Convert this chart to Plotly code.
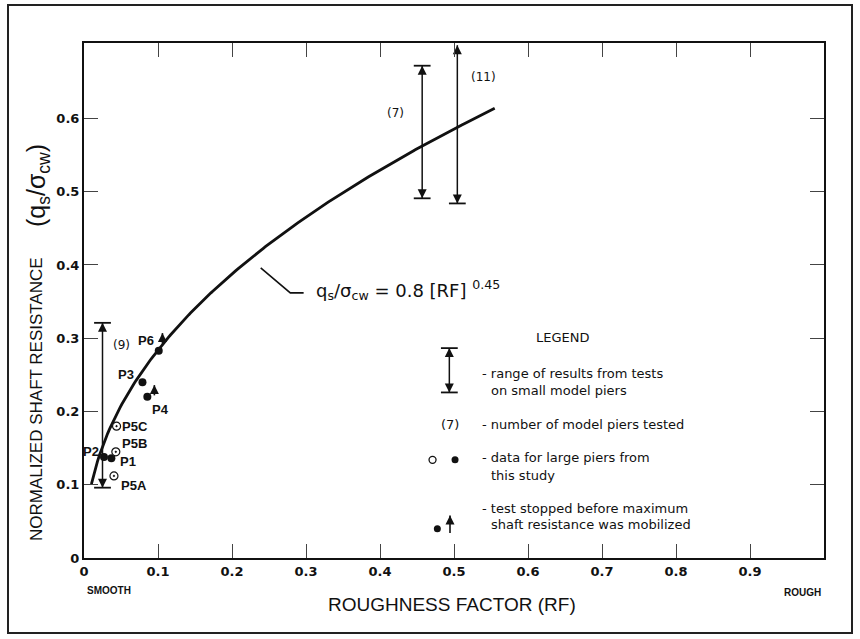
import numpy as np
import plotly.graph_objects as go

# ---- data -------------------------------------------------------------
# Large-pier test results (this study)
solid_labels = ["P1", "P2", "P3", "P4", "P6"]
solid_rf = [0.037, 0.027, 0.079, 0.0856, 0.101]
solid_q = [0.136, 0.138, 0.240, 0.220, 0.283]

open_labels = ["P5A", "P5B", "P5C"]
open_rf = [0.0405, 0.043, 0.044]
open_q = [0.112, 0.145, 0.180]

# tests stopped before maximum shaft resistance was mobilized
stopped_labels = ["P6", "P4"]

# Ranges from small model pier tests
range_rf = [0.025, 0.457, 0.5045]
range_low = [0.096, 0.491, 0.484]
range_high = [0.321, 0.672, 0.700]
range_capped_top = [True, True, False]
range_count = ["(9)", "(7)", "(11)"]
count_pos_rf = [0.051, 0.421, 0.5405]
count_pos_q = [0.291, 0.608, 0.657]

# Fitted relation  qs/sigma_cw = 0.8 * RF^0.45
coef = 0.8
expo = 0.45
rf_start, rf_end = 0.01, 0.555

x_ticks = [0, 0.1, 0.2, 0.3, 0.4, 0.5, 0.6, 0.7, 0.8, 0.9]
x_tick_text = ["0", "0.1", "0.2", "0.3", "0.4", "0.5", "0.6", "0.7", "0.8", "0.9"]
y_ticks = [0, 0.1, 0.2, 0.3, 0.4, 0.5, 0.6]
y_tick_text = ["0", "0.1", "0.2", "0.3", "0.4", "0.5", "0.6"]

# ---- layout geometry --------------------------------------------------
W, H = 860, 639
ML, MR, MT, MB = 84, 36, 43, 81
PW, PH = W - ML - MR, H - MT - MB
X_RANGE = [0, 1.0]
Y_RANGE = [0, 0.703]


def paper_x(px):
    return (px - ML) / PW


def paper_y(py):
    return (H - MB - py) / PH


INK = "#111111"
FONT = "Liberation Sans, Arial, Helvetica, sans-serif"
WIDE = "DejaVu Sans, Verdana, sans-serif"
HEAD = 9  # arrowhead marker size

fig = go.Figure()
annotations = []


def add_arrows(xs, lows, highs, up=True, down=True, width=1.5):
    """Vertical shafts with arrowheads (tips sit on the end values)."""
    lx, ly = [], []
    for xv, lo, hi in zip(xs, lows, highs):
        lx += [xv, xv, None]
        ly += [lo, hi, None]
    fig.add_trace(go.Scatter(x=lx, y=ly, mode="lines",
                             line=dict(color=INK, width=width),
                             hoverinfo="skip"))
    if up:
        fig.add_trace(go.Scatter(x=list(xs), y=list(highs), mode="markers",
                                 marker=dict(symbol="arrow-up", size=HEAD,
                                             color=INK, line=dict(width=0)),
                                 hoverinfo="skip"))
    if down:
        fig.add_trace(go.Scatter(x=list(xs), y=list(lows), mode="markers",
                                 marker=dict(symbol="arrow-down", size=HEAD,
                                             color=INK, line=dict(width=0)),
                                 hoverinfo="skip"))


def add_caps(xs, ys):
    fig.add_trace(go.Scatter(x=xs, y=ys, mode="markers",
                             marker=dict(symbol="line-ew", size=12,
                                         line=dict(color=INK, width=1.8)),
                             hoverinfo="skip"))


# fitted curve
rf = np.linspace(rf_start, rf_end, 200)
fig.add_trace(go.Scatter(x=rf, y=coef * rf ** expo, mode="lines",
                         line=dict(color=INK, width=2.8), hoverinfo="skip"))

# range bars from model pier tests
cap_x, cap_y = [], []
for xv, lo, hi, top in zip(range_rf, range_low, range_high, range_capped_top):
    cap_x.append(xv)
    cap_y.append(lo)
    if top:
        cap_x.append(xv)
        cap_y.append(hi)
add_caps(cap_x, cap_y)
add_arrows(range_rf, range_low, range_high)
for t, xv, yv in zip(range_count, count_pos_rf, count_pos_q):
    annotations.append(dict(x=xv, y=yv, text=t, showarrow=False,
                            xanchor="center", yanchor="middle",
                            font=dict(family=WIDE, size=12, color=INK)))

# large pier points
fig.add_trace(go.Scatter(x=solid_rf, y=solid_q, mode="markers",
                         marker=dict(symbol="circle", size=8, color=INK),
                         hoverinfo="skip"))
fig.add_trace(go.Scatter(x=open_rf, y=open_q, mode="markers",
                         marker=dict(symbol="circle-dot", size=8, color="white",
                                     line=dict(color=INK, width=1.2)),
                         hoverinfo="skip"))

# point label placement (anchor, x shift px, y shift px)
label_style = {
    "P1": ("left", 7, -3), "P2": ("right", -3, 5), "P3": ("right", -6, 8),
    "P4": ("left", 3, -13), "P6": ("right", -3, 10),
    "P5A": ("left", 5, -10), "P5B": ("left", 4, 8), "P5C": ("left", 3, 0),
}
all_pts = dict(zip(solid_labels, zip(solid_rf, solid_q)))
all_pts.update(dict(zip(open_labels, zip(open_rf, open_q))))
for name, (xv, yv) in all_pts.items():
    anc, sx, sy = label_style[name]
    annotations.append(dict(x=xv, y=yv, text=name, showarrow=False,
                            xanchor=anc, yanchor="middle", xshift=sx, yshift=sy,
                            font=dict(family=FONT, size=13, color=INK,
                                      weight="bold")))

# "still rising" arrows beside stopped tests (x offset, bottom, top offsets)
stop_offsets = {"P6": (0.005, 0.0095, 0.024), "P4": (0.0095, 0.002, 0.016)}
sx_, lo_, hi_ = [], [], []
for name in stopped_labels:
    xv, yv = all_pts[name]
    dx, d0, d1 = stop_offsets[name]
    sx_.append(xv + dx)
    lo_.append(yv + d0)
    hi_.append(yv + d1)
add_arrows(sx_, lo_, hi_, up=True, down=False, width=1.6)

# equation label with leader line
lead_rf = 0.2388
lead_q = coef * lead_rf ** expo - 0.024
fig.add_shape(type="path", xref="x", yref="y",
              path=f"M {lead_rf} {lead_q} L {lead_rf + 0.040} {lead_q - 0.034} "
                   f"L {lead_rf + 0.058} {lead_q - 0.034}",
              line=dict(color=INK, width=1.6))
annotations.append(dict(x=lead_rf + 0.072, y=lead_q - 0.030, xanchor="left",
                        yanchor="middle",
                        text="q<sub>s</sub>/σ<sub>cw</sub> = 0.8 [RF] <sup>0.45</sup>",
                        showarrow=False,
                        font=dict(family=WIDE, size=18, color=INK)))

# ---- legend block ----------------------------------------------------
leg_x = 0.4937
add_caps([leg_x, leg_x], [0.226, 0.2865])
add_arrows([leg_x], [0.226], [0.2865])
fig.add_trace(go.Scatter(x=[0.471], y=[0.134], mode="markers",
                         marker=dict(symbol="circle-open", size=7, color=INK,
                                     line=dict(color=INK, width=1.3)),
                         hoverinfo="skip"))
fig.add_trace(go.Scatter(x=[0.5014, 0.4775], y=[0.134, 0.040], mode="markers",
                         marker=dict(symbol="circle", size=7, color=INK),
                         hoverinfo="skip"))
add_arrows([0.4946], [0.034], [0.058], up=True, down=False, width=1.6)

legend_lines = [
    ("LEGEND", 562.7, 337.3, "center"),
    ("(7)", 450, 424, "center"),
    ("- range of results from tests", 480, 373.3, "left"),
    ("on small model piers", 489.3, 390.7, "left"),
    ("- number of model piers tested", 480, 424, "left"),
    ("- data for large piers from", 480, 457.7, "left"),
    ("this study", 489.3, 475, "left"),
    ("- test stopped before maximum", 480, 508.3, "left"),
    ("shaft resistance was mobilized", 489.3, 524.3, "left"),
]
for txt, px, py, anc in legend_lines:
    annotations.append(dict(x=paper_x(px), y=paper_y(py), xref="paper",
                            yref="paper", text=txt, showarrow=False,
                            xanchor=anc, yanchor="middle",
                            font=dict(family=WIDE, size=13, color=INK)))

# ---- axis titles and end labels ---------------------------------------
annotations += [
    dict(x=paper_x(36), y=paper_y(399), xref="paper", yref="paper",
         xanchor="center", yanchor="middle",
         text="NORMALIZED SHAFT RESISTANCE", textangle=-90, showarrow=False,
         font=dict(family=FONT, size=17, color=INK)),
    dict(x=paper_x(38), y=paper_y(186), xref="paper", yref="paper",
         xanchor="center", yanchor="middle",
         text="(q<sub>s</sub>/σ<sub>cw</sub>)", textangle=-90, showarrow=False,
         font=dict(family=FONT, size=25, color=INK)),
    dict(x=paper_x(452), y=paper_y(604), xref="paper", yref="paper",
         xanchor="center", yanchor="middle",
         text="ROUGHNESS FACTOR (RF)", showarrow=False,
         font=dict(family=FONT, size=19, color=INK)),
    dict(x=paper_x(85), y=paper_y(590), xref="paper", yref="paper",
         text="SMOOTH", xanchor="left", yanchor="middle", showarrow=False,
         font=dict(family=FONT, size=10, color=INK, weight="bold")),
    dict(x=paper_x(823), y=paper_y(592), xref="paper", yref="paper",
         text="ROUGH", xanchor="right", yanchor="middle", showarrow=False,
         font=dict(family=FONT, size=10, color=INK, weight="bold")),
]

# outer frame around the whole figure
fig.add_shape(type="rect", xref="paper", yref="paper",
              x0=paper_x(8), x1=paper_x(852), y0=paper_y(633), y1=paper_y(5),
              line=dict(color="#222222", width=2))

axis_common = dict(showgrid=False, zeroline=False, showline=True,
                   linecolor=INK, linewidth=2, mirror="ticks", ticks="inside",
                   ticklen=14, tickwidth=1.2, tickcolor="#444444",
                   tickfont=dict(family=WIDE, size=13, color=INK, weight="bold"))

fig.update_layout(
    width=W, height=H,
    margin=dict(l=ML, r=MR, t=MT, b=MB, pad=0),
    paper_bgcolor="white", plot_bgcolor="white",
    showlegend=False,
    xaxis=dict(range=X_RANGE, tickvals=x_ticks, ticktext=x_tick_text, **axis_common),
    yaxis=dict(range=Y_RANGE, tickvals=y_ticks, ticktext=y_tick_text, **axis_common),
    annotations=annotations,
)

fig.write_html("out.html", config=dict(displayModeBar=False))
